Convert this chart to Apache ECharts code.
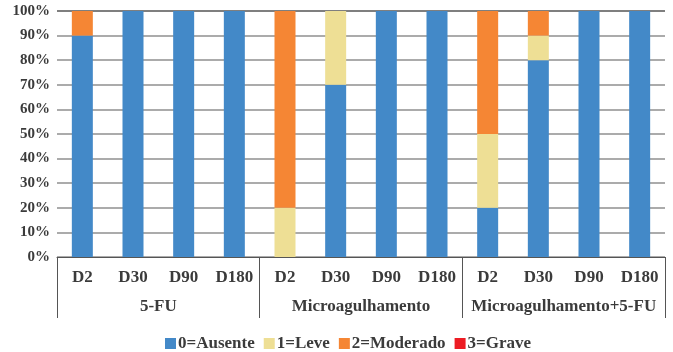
<!DOCTYPE html>
<html>
<head>
<meta charset="utf-8">
<script src="https://cdn.jsdelivr.net/npm/echarts@6/dist/echarts.min.js"></script>
<style>
  html, body { margin: 0; padding: 0; background: #fff; }
  #chart { width: 673px; height: 352px; }
</style>
</head>
<body>
<div id="chart"></div>
<script>
// Time points within each treatment group
const categories = ['D2', 'D30', 'D90', 'D180', 'D2', 'D30', 'D90', 'D180', 'D2', 'D30', 'D90', 'D180'];
// Treatment groups (second level of the category axis)
const groups = ['5-FU', 'Microagulhamento', 'Microagulhamento+5-FU'];
// Share of patients per severity grade (%)
const ausente  = [90, 100, 100, 100, 0, 70, 100, 100, 20, 80, 100, 100];
const leve     = [0, 0, 0, 0, 20, 30, 0, 0, 30, 10, 0, 0];
const moderado = [10, 0, 0, 0, 80, 0, 0, 0, 50, 10, 0, 0];
const grave    = [0, 0, 0, 0, 0, 0, 0, 0, 0, 0, 0, 0];
const yTicks = [0, 10, 20, 30, 40, 50, 60, 70, 80, 90, 100];

const FONT = '"Liberation Serif", "DejaVu Serif", serif';
const TXT = '#3b3b3b';

const seriesDefs = [
  { name: '0=Ausente', data: ausente, color: '#4389C8' },
  { name: '1=Leve', data: leve, color: '#EEDF95' },
  { name: '2=Moderado', data: moderado, color: '#F58634' },
  { name: '3=Grave', data: grave, color: '#ED1C24' }
];

const chart = echarts.init(document.getElementById('chart'), null, { renderer: 'canvas' });

const gridColors = yTicks.map((v, i) => i === yTicks.length - 1 ? '#555555' : '#8f8f8f');

chart.setOption({
  animation: false,
  backgroundColor: '#ffffff',
  textStyle: { fontFamily: FONT },
  grid: { left: 57, right: 8, top: 11, bottom: 95, containLabel: false },
  legend: {
    left: 160,
    top: 330,
    itemWidth: 11,
    itemHeight: 11,
    itemGap: 9,
    icon: 'rect',
    textStyle: { fontFamily: FONT, fontWeight: 'bold', fontSize: 17, color: TXT, padding: [0, 0, 0, -3] },
    data: seriesDefs.map(s => s.name)
  },
  xAxis: [
    {
      type: 'category',
      data: categories,
      position: 'bottom',
      axisLine: { show: false },
      axisTick: { show: false },
      axisLabel: {
        interval: 0, margin: 12,
        fontFamily: FONT, fontWeight: 'bold', fontSize: 17, color: TXT
      }
    },
    {
      type: 'category',
      data: groups,
      position: 'bottom',
      axisLine: { show: true, lineStyle: { color: '#555555', width: 1 } },
      axisTick: { show: true, length: 61, interval: 0, lineStyle: { color: '#555555', width: 1 } },
      axisLabel: {
        interval: 0, margin: 41,
        fontFamily: FONT, fontWeight: 'bold', fontSize: 17, color: TXT
      }
    }
  ],
  yAxis: {
    type: 'value',
    min: 0, max: 100, interval: 10,
    axisLine: { show: false },
    axisTick: { show: false },
    splitLine: { show: true, lineStyle: { color: gridColors, width: 1.5 } },
    axisLabel: {
      margin: 7,
      formatter: '{value}%',
      fontFamily: FONT, fontWeight: 'bold', fontSize: 15, color: TXT
    }
  },
  series: seriesDefs.map(s => ({
    name: s.name,
    type: 'bar',
    stack: 'total',
    xAxisIndex: 0,
    barWidth: 21,
    data: s.data,
    itemStyle: { color: s.color }
  }))
});
</script>
</body>
</html>
